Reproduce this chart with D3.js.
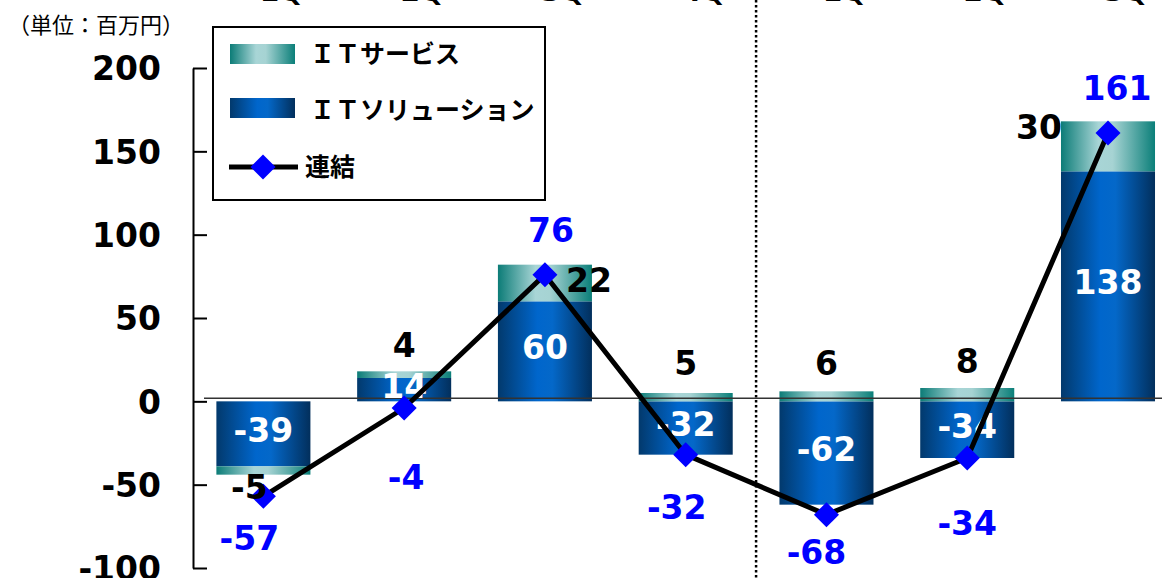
<!DOCTYPE html>
<html>
<head>
<meta charset="utf-8">
<script src="https://cdn.jsdelivr.net/npm/d3@7"></script>
<style>
  body { margin: 0; background: #fff; }
  svg { display: block; }
  .num { font-family: "DejaVu Sans", Verdana, sans-serif; font-weight: bold; font-size: 33px; }
  .jp { font-family: "Noto Sans CJK JP", sans-serif; }
</style>
</head>
<body>
<svg id="chart" width="1162" height="578"></svg>
<script>
// data
const categories = ['1Q', '2Q', '3Q', '4Q', '1Q ', '2Q ', '3Q '];
const itSolution = [-39, 14, 60, -32, -62, -34, 138];
const itService = [-5, 4, 22, 5, 6, 8, 30];
const consolidated = [-57, -4, 76, -32, -68, -34, 161];
const yTicks = [-100, -50, 0, 50, 100, 150, 200];

const svg = d3.select('#chart');
const W = 1162, H = 578;

const x = d3.scaleBand().domain(categories).range([146, 1225.4]).paddingInner(0.332).paddingOuter(0.5);
const y = d3.scaleLinear().domain([-100, 200]).range([568, 68]);
const cx = c => x(c) + x.bandwidth() / 2;

// gradients
const defs = svg.append('defs');
function grad(id, stops) {
    const g = defs.append('linearGradient').attr('id', id).attr('x1', 0).attr('x2', 1).attr('y1', 0).attr('y2', 0);
    stops.forEach(([o, c]) => g.append('stop').attr('offset', o).attr('stop-color', c));
}
grad('gSol', [['0%', '#02396c'], ['42%', '#0066cc'], ['58%', '#0468c9'], ['100%', '#022f5c']]);
grad('gSvc', [['0%', '#0c7c77'], ['40%', '#a8d5d6'], ['55%', '#a6d3d3'], ['100%', '#0b7f79']]);

// top category labels (cut off at the top edge, as in the source)
svg.append('g').selectAll('text').data(categories).join('text')
    .attr('class', 'num')
    .attr('x', d => cx(d) + 18)
    .attr('y', 1)
    .attr('text-anchor', 'middle')
    .style('font-size', '28px')
    .text(d => d.trim());

// unit
svg.append('text').attr('class', 'jp').attr('x', 8).attr('y', 33)
    .style('font-size', '22px').text('（単位：百万円）');

// dotted separator
const sepX = (cx(categories[3]) + cx(categories[4])) / 2;
svg.append('line').attr('x1', sepX).attr('x2', sepX).attr('y1', 0).attr('y2', H)
    .attr('stroke', '#000').attr('stroke-width', 2.5).attr('stroke-dasharray', '2.5 2.5');

// y axis
const yAxis = svg.append('g').attr('transform', 'translate(193,0)')
    .call(d3.axisLeft(y).tickValues(yTicks).tickFormat(d => String(d))
        .tickSizeInner(-14).tickSizeOuter(0).tickPadding(32));
yAxis.selectAll('path, line').attr('stroke', '#000').attr('stroke-width', 2);
yAxis.selectAll('text').attr('class', 'num').attr('fill', '#000').attr('dy', '0.36em');

// bars
const rows = categories.map((c, i) => {
    const s = itSolution[i], v = itService[i];
    const svcBase = Math.sign(v) === Math.sign(s) ? s : 0;
    return { c, s, v, svcBase, svcEnd: svcBase + v };
});
const bars = svg.append('g');
bars.selectAll('rect.sol').data(rows).join('rect').attr('class', 'sol')
    .attr('x', d => x(d.c)).attr('width', x.bandwidth())
    .attr('y', d => y(Math.max(0, d.s))).attr('height', d => Math.abs(y(d.s) - y(0)))
    .attr('fill', 'url(#gSol)');
bars.selectAll('rect.svc').data(rows).join('rect').attr('class', 'svc')
    .attr('x', d => x(d.c)).attr('width', x.bandwidth())
    .attr('y', d => y(Math.max(d.svcBase, d.svcEnd))).attr('height', d => Math.abs(y(d.svcEnd) - y(d.svcBase)))
    .attr('fill', 'url(#gSvc)');

// zero line
svg.append('line').attr('x1', 204).attr('x2', W).attr('y1', y(0) - 3).attr('y2', y(0) - 3)
    .attr('stroke', '#333').attr('stroke-width', 1.5);

// solution labels
svg.append('g').selectAll('text').data(rows).join('text')
    .attr('class', 'num').attr('fill', '#fff').attr('text-anchor', 'middle')
    .attr('x', d => cx(d.c)).attr('y', d => (y(d.s) + y(0)) / 2 - 4).attr('dy', '0.36em')
    .text(d => d.s);

// consolidated line
const pts = categories.map((c, i) => [cx(c), y(consolidated[i])]);
svg.append('path').attr('d', d3.line()(pts)).attr('fill', 'none')
    .attr('stroke', '#000').attr('stroke-width', 5).attr('stroke-linejoin', 'round');
const diamond = d3.symbol(d3.symbolSquare, 313);
svg.append('g').selectAll('path').data(pts).join('path')
    .attr('d', diamond).attr('fill', '#0000ff')
    .attr('transform', d => `translate(${d[0]},${d[1]}) rotate(45)`);

// service labels
const svcOffset = [[-14, 12], [0, -26], [44, 15], [0, -30], [0, -28], [0, -27], [-69, 6]];
svg.append('g').selectAll('text').data(rows).join('text')
    .attr('class', 'num').attr('fill', '#000').attr('text-anchor', 'middle')
    .attr('x', (d, i) => cx(d.c) + svcOffset[i][0])
    .attr('y', (d, i) => y(d.svcEnd) + svcOffset[i][1]).attr('dy', '0.36em')
    .text(d => d.v);

// consolidated labels
const totOffset = [[-14, 42], [2, 69], [6, -45], [-9, 52], [-10, 37], [0, 65], [9, -45]];
svg.append('g').selectAll('text').data(consolidated).join('text')
    .attr('class', 'num').attr('fill', '#0000ff').attr('text-anchor', 'middle')
    .attr('x', (d, i) => pts[i][0] + totOffset[i][0])
    .attr('y', (d, i) => pts[i][1] + totOffset[i][1]).attr('dy', '0.36em')
    .text(d => d);

// legend
const lg = svg.append('g');
lg.append('rect').attr('x', 213).attr('y', 27).attr('width', 332).attr('height', 173)
    .attr('fill', '#fff').attr('stroke', '#000').attr('stroke-width', 2);
lg.append('rect').attr('x', 230).attr('y', 44).attr('width', 65).attr('height', 20).attr('fill', 'url(#gSvc)');
lg.append('rect').attr('x', 230).attr('y', 98).attr('width', 65).attr('height', 20).attr('fill', 'url(#gSol)');
lg.append('line').attr('x1', 229).attr('x2', 298).attr('y1', 167).attr('y2', 167)
    .attr('stroke', '#000').attr('stroke-width', 5);
lg.append('path').attr('d', diamond).attr('fill', '#0000ff').attr('transform', 'translate(263,167) rotate(45)');
[['ＩＴサービス', 63], ['ＩＴソリューション', 119], ['連結', 176]].forEach(([t, yy], i) => {
    lg.append('text').attr('class', 'jp').attr('x', i === 2 ? 305 : 310).attr('y', yy)
        .style('font-size', '25px').style('font-weight', 'bold').text(t);
});
</script>
</body>
</html>
